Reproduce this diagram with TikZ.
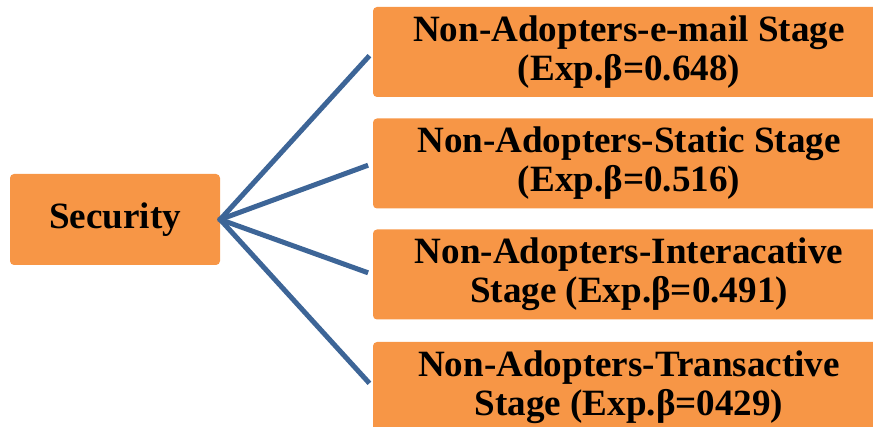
\documentclass[tikz,border=0pt]{standalone}
\usepackage{fontspec}
\setmainfont{Liberation Serif}[BoldFont={Liberation Serif Bold}]
\definecolor{boxorange}{RGB}{247,150,70}
\definecolor{linkblue}{RGB}{61,101,151}
\begin{document}
\begin{tikzpicture}[x=1pt,y=-1pt,
  box/.style={fill=boxorange, draw=none, rounded corners=4pt, inner sep=0pt,
    align=center, font=\fontsize{37.1}{39}\selectfont\bfseries},
  link/.style={draw=linkblue, line width=5pt}]
\useasboundingbox (0,0) rectangle (873,427);
\clip (0,0) rectangle (873,427);
% root factor
\node[box, minimum width=210pt, minimum height=91pt] (sec) at (115,219.5) {Security};
% adoption stages
\node[box, minimum width=512pt, minimum height=90pt] (s1) at (629,52) {Non-Adopters-e-mail Stage\\(Exp.β=0.648)};
\node[box, minimum width=512pt, minimum height=90pt] (s2) at (629,163.5) {Non-Adopters-Static Stage\\(Exp.β=0.516)};
\node[box, minimum width=512pt, minimum height=90pt] (s3) at (629,274.5) {Non-Adopters-Interacative\\Stage (Exp.β=0.491)};
\node[box, minimum width=512pt, minimum height=90pt] (s4) at (629,387) {Non-Adopters-Transactive\\Stage (Exp.β=0429)};
% connectors
\foreach \s in {s1,s2,s3,s4}
  \draw[link, shorten <=-2pt, shorten >=5pt] (sec.east) -- (\s.west);
\end{tikzpicture}
\end{document}
